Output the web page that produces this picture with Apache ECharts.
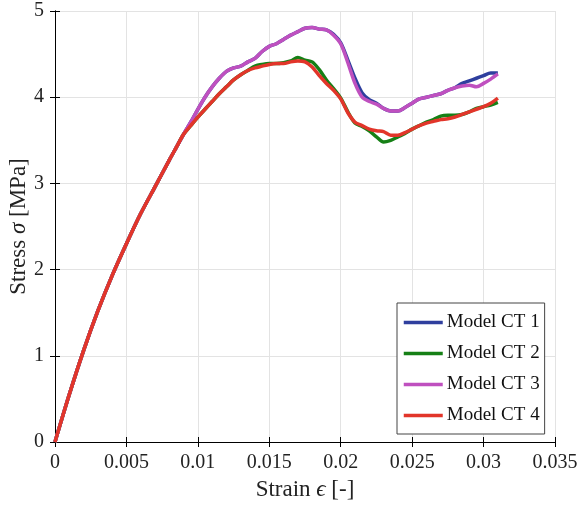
<!DOCTYPE html>
<html>
<head>
<meta charset="utf-8">
<script src="https://cdn.jsdelivr.net/npm/echarts@6/dist/echarts.min.js"></script>
<style>
  html, body { margin: 0; padding: 0; background: #fff; }
  #chart { width: 579px; height: 505px; }
</style>
</head>
<body>
<div id="chart"></div>
<script>
// strain values shared by all four models
const strain = [0, 0.001, 0.002, 0.003, 0.004, 0.005, 0.006, 0.007, 0.008,
  0.0085, 0.009, 0.0095, 0.01, 0.0105, 0.011, 0.0115, 0.012, 0.0125, 0.013, 0.0135,
  0.014, 0.0145, 0.015, 0.0155, 0.016, 0.0165, 0.017, 0.0175, 0.018, 0.0185,
  0.019, 0.0195, 0.02, 0.0205, 0.021, 0.0215, 0.022, 0.0225, 0.023, 0.0235,
  0.024, 0.0245, 0.025, 0.0255, 0.026, 0.0265, 0.027, 0.0275, 0.028, 0.0285,
  0.029, 0.0295, 0.03, 0.0305, 0.031];

const ct1 = [0, 0.55, 1.06, 1.52, 1.93, 2.3, 2.65, 2.96, 3.27,
  3.42, 3.57, 3.71, 3.86, 4.0, 4.12, 4.22, 4.3, 4.34, 4.36, 4.41,
  4.45, 4.53, 4.59, 4.62, 4.67, 4.72, 4.76, 4.8, 4.81, 4.79,
  4.78, 4.73, 4.63, 4.43, 4.22, 4.05, 3.97, 3.93, 3.87, 3.84,
  3.84, 3.88, 3.93, 3.98, 4.0, 4.02, 4.04, 4.08, 4.11, 4.16,
  4.19, 4.22, 4.25, 4.28, 4.28];

const ct2 = [0, 0.55, 1.06, 1.52, 1.93, 2.3, 2.65, 2.96, 3.27,
  3.42, 3.57, 3.67, 3.77, 3.86, 3.95, 4.04, 4.12, 4.2, 4.26, 4.31,
  4.36, 4.38, 4.39, 4.39, 4.4, 4.42, 4.46, 4.43, 4.41, 4.32,
  4.2, 4.1, 3.99, 3.83, 3.7, 3.66, 3.61, 3.54, 3.48, 3.5,
  3.54, 3.58, 3.63, 3.67, 3.71, 3.74, 3.78, 3.79, 3.79, 3.8,
  3.83, 3.87, 3.89, 3.91, 3.94];

const ct3 = [0, 0.55, 1.06, 1.52, 1.93, 2.3, 2.65, 2.96, 3.27,
  3.42, 3.57, 3.71, 3.86, 4.0, 4.12, 4.22, 4.3, 4.34, 4.36, 4.41,
  4.45, 4.53, 4.59, 4.62, 4.67, 4.72, 4.76, 4.8, 4.81, 4.79,
  4.78, 4.72, 4.62, 4.4, 4.16, 4.0, 3.95, 3.92, 3.87, 3.84,
  3.84, 3.88, 3.93, 3.98, 4.0, 4.02, 4.04, 4.08, 4.11, 4.13,
  4.14, 4.12, 4.16, 4.21, 4.27];

const ct4 = [0, 0.55, 1.06, 1.52, 1.93, 2.3, 2.65, 2.96, 3.27,
  3.42, 3.57, 3.67, 3.77, 3.86, 3.95, 4.04, 4.12, 4.2, 4.26, 4.31,
  4.34, 4.36, 4.38, 4.39, 4.39, 4.41, 4.42, 4.41, 4.35, 4.25,
  4.16, 4.08, 3.98, 3.82, 3.71, 3.67, 3.63, 3.61, 3.6, 3.56,
  3.56, 3.59, 3.63, 3.67, 3.7, 3.72, 3.74, 3.75, 3.77, 3.8,
  3.83, 3.86, 3.89, 3.93, 3.99];

const seriesNames = ['Model CT 1', 'Model CT 2', 'Model CT 3', 'Model CT 4'];
const seriesColors = ['#2f3f9e', '#168016', '#bf50bf', '#e2352a'];
const seriesValues = [ct1, ct2, ct3, ct4];

const font = "'Liberation Serif', 'Times New Roman', serif";

const chart = echarts.init(document.getElementById('chart'));

const boxAxis = {
  axisLine: { show: true, lineStyle: { color: '#000', width: 1 } },
  axisTick: { show: true, inside: true, length: 5, lineStyle: { color: '#000' } },
  axisLabel: { show: false },
  splitLine: { show: false }
};

chart.setOption({
  animation: false,
  backgroundColor: '#fff',
  grid: { left: 55, right: 24, top: 11, bottom: 63, containLabel: false, outerBoundsMode: 'none' },
  legend: {
    orient: 'vertical',
    left: 397,
    top: 303,
    padding: [10, 5, 9, 5],
    itemGap: 12,
    itemWidth: 39,
    itemHeight: 18,
    backgroundColor: '#fff',
    borderColor: '#444',
    borderWidth: 1,
    borderRadius: 0,
    itemStyle: { opacity: 0 },
    lineStyle: { width: 3.5 },
    textStyle: { fontFamily: font, fontSize: 19, color: '#111', padding: [0, 0, 0, -1] },
    data: seriesNames
  },
  xAxis: [{
    type: 'value',
    min: 0,
    max: 0.035,
    interval: 0.005,
    name: 'Strain {i|ϵ} [-]',
    nameLocation: 'middle',
    nameGap: 36,
    nameMoveOverlap: false,
    nameTextStyle: {
      fontFamily: font, fontSize: 23, color: '#222',
      rich: { i: { fontFamily: font, fontSize: 23, fontStyle: 'italic', color: '#222' } }
    },
    axisLine: { show: true, lineStyle: { color: '#000', width: 1 } },
    axisTick: { show: true, inside: true, length: 5, lineStyle: { color: '#000' } },
    axisLabel: {
      fontFamily: font, fontSize: 20, color: '#222', margin: 11,
      formatter: v => String(+v.toFixed(3))
    },
    splitLine: { show: true, lineStyle: { color: '#e3e3e3', width: 1 } }
  }, Object.assign({
    type: 'value', position: 'top', min: 0, max: 0.035, interval: 0.005
  }, boxAxis)],
  yAxis: [{
    type: 'value',
    min: 0,
    max: 5,
    interval: 1,
    name: 'Stress {i|σ} [MPa]',
    nameLocation: 'middle',
    nameGap: 25,
    nameMoveOverlap: false,
    nameTextStyle: {
      fontFamily: font, fontSize: 23, color: '#222',
      rich: { i: { fontFamily: font, fontSize: 23, fontStyle: 'italic', color: '#222' } }
    },
    axisLine: { show: true, lineStyle: { color: '#000', width: 1 } },
    axisTick: { show: true, inside: true, length: 5, lineStyle: { color: '#000' } },
    axisLabel: { fontFamily: font, fontSize: 20, color: '#222', margin: 11 },
    splitLine: { show: true, lineStyle: { color: '#e3e3e3', width: 1 } }
  }, Object.assign({
    type: 'value', position: 'right', min: 0, max: 5, interval: 1
  }, boxAxis)],
  series: seriesNames.map((name, k) => ({
    name: name,
    type: 'line',
    xAxisIndex: 0,
    yAxisIndex: 0,
    symbol: 'none',
    smooth: 0.3,
    color: seriesColors[k],
    lineStyle: { width: 3.5, color: seriesColors[k] },
    data: strain.map((s, i) => [s, seriesValues[k][i]])
  }))
});
</script>
</body>
</html>
